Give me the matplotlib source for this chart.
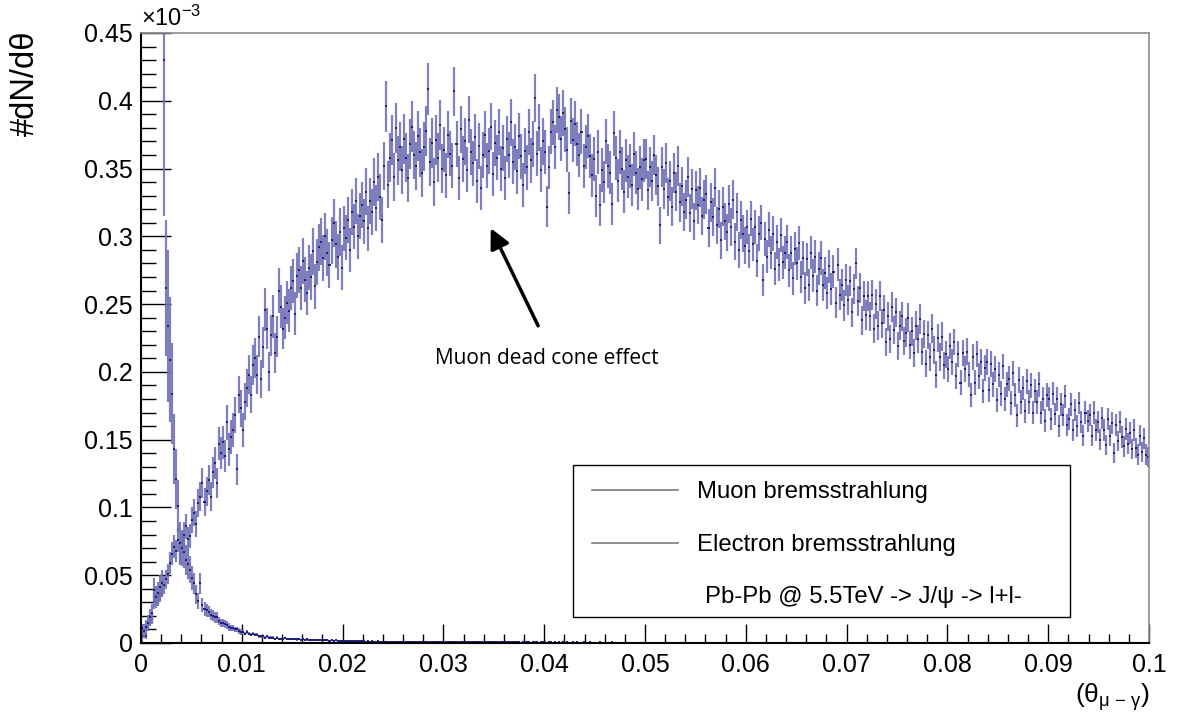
import numpy as np
import matplotlib
matplotlib.use('Agg')
import matplotlib.pyplot as plt
from matplotlib.patches import Rectangle
from matplotlib.lines import Line2D
from matplotlib.ticker import MultipleLocator, FuncFormatter

plt.rcParams['font.family'] = ['Liberation Sans', 'DejaVu Sans']
plt.rcParams['mathtext.fontset'] = 'custom'
plt.rcParams['mathtext.rm'] = 'Liberation Sans'
plt.rcParams['mathtext.it'] = 'Liberation Sans'

# histogram range and binning, 500 bins between 0 and 0.1 rad
theta_min, theta_max, n_bins = 0.0, 0.1, 500

# dN/dtheta in units of 1e-3, muon bremsstrahlung
muon = [
    0.011, 0.008, 0.005, 0.012, 0.017, 0.018, 0.031, 0.035, 0.033, 0.036,
    0.040, 0.043, 0.047, 0.051, 0.059, 0.066, 0.071, 0.068, 0.076, 0.066,
    0.074, 0.080, 0.086, 0.077, 0.079, 0.091, 0.096, 0.088, 0.103, 0.108,
    0.118, 0.104, 0.112, 0.120, 0.108, 0.126, 0.133, 0.118, 0.147, 0.140,
    0.148, 0.138, 0.163, 0.143, 0.152, 0.157, 0.168, 0.128, 0.183, 0.173,
    0.157, 0.178, 0.188, 0.198, 0.183, 0.205, 0.210, 0.198, 0.226, 0.195,
    0.218, 0.246, 0.232, 0.200, 0.227, 0.241, 0.214, 0.226, 0.260, 0.248,
    0.232, 0.240, 0.251, 0.245, 0.262, 0.267, 0.243, 0.271, 0.275, 0.262,
    0.282, 0.268, 0.258, 0.277, 0.270, 0.289, 0.263, 0.281, 0.292, 0.296,
    0.284, 0.300, 0.288, 0.279, 0.297, 0.310, 0.294, 0.285, 0.303, 0.277,
    0.306, 0.299, 0.312, 0.290, 0.318, 0.307, 0.326, 0.300, 0.315, 0.323,
    0.311, 0.333, 0.306, 0.326, 0.318, 0.340, 0.321, 0.344, 0.329, 0.312,
    0.352, 0.396, 0.338, 0.358, 0.371, 0.344, 0.380, 0.356, 0.366, 0.349,
    0.372, 0.358, 0.343, 0.368, 0.381, 0.360, 0.352, 0.374, 0.362, 0.347,
    0.366, 0.378, 0.409, 0.355, 0.369, 0.340, 0.371, 0.358, 0.382, 0.350,
    0.364, 0.345, 0.375, 0.361, 0.352, 0.407, 0.368, 0.343, 0.379, 0.357,
    0.370, 0.349, 0.386, 0.362, 0.354, 0.373, 0.341, 0.367, 0.336, 0.360,
    0.375, 0.352, 0.363, 0.381, 0.346, 0.369, 0.358, 0.377, 0.350, 0.365,
    0.343, 0.372, 0.360, 0.384, 0.355, 0.366, 0.348, 0.374, 0.359, 0.338,
    0.363, 0.351, 0.377, 0.356, 0.368, 0.402, 0.361, 0.380, 0.349, 0.370,
    0.362, 0.322, 0.351, 0.377, 0.384, 0.366, 0.393, 0.388, 0.372, 0.391,
    0.379, 0.364, 0.332, 0.385, 0.371, 0.383, 0.368, 0.360, 0.377, 0.352,
    0.366, 0.374, 0.359, 0.345, 0.357, 0.330, 0.362, 0.323, 0.349, 0.340,
    0.370, 0.352, 0.347, 0.324, 0.376, 0.358, 0.341, 0.362, 0.350, 0.333,
    0.356, 0.344, 0.352, 0.338, 0.361, 0.347, 0.335, 0.351, 0.342, 0.356,
    0.357, 0.334, 0.351, 0.341, 0.360, 0.345, 0.337, 0.308, 0.351, 0.335,
    0.354, 0.329, 0.341, 0.322, 0.347, 0.333, 0.352, 0.325, 0.337, 0.318,
    0.327, 0.344, 0.317, 0.335, 0.311, 0.334, 0.323, 0.336, 0.315, 0.327,
    0.331, 0.306, 0.325, 0.314, 0.336, 0.308, 0.320, 0.297, 0.322, 0.311,
    0.303, 0.324, 0.307, 0.327, 0.296, 0.318, 0.290, 0.312, 0.302, 0.293,
    0.307, 0.289, 0.313, 0.294, 0.307, 0.282, 0.302, 0.310, 0.268, 0.298,
    0.285, 0.305, 0.288, 0.302, 0.276, 0.296, 0.279, 0.301, 0.281, 0.288,
    0.296, 0.275, 0.288, 0.269, 0.291, 0.280, 0.295, 0.270, 0.284, 0.262,
    0.283, 0.264, 0.288, 0.271, 0.285, 0.260, 0.276, 0.284, 0.264, 0.273,
    0.258, 0.278, 0.261, 0.274, 0.251, 0.279, 0.257, 0.264, 0.249, 0.268,
    0.253, 0.267, 0.244, 0.261, 0.280, 0.252, 0.262, 0.238, 0.256, 0.242,
    0.256, 0.241, 0.257, 0.232, 0.250, 0.234, 0.256, 0.236, 0.246, 0.222,
    0.241, 0.224, 0.248, 0.231, 0.244, 0.219, 0.234, 0.241, 0.223, 0.229,
    0.240, 0.220, 0.230, 0.214, 0.234, 0.224, 0.239, 0.215, 0.228, 0.206,
    0.227, 0.211, 0.232, 0.216, 0.198, 0.225, 0.211, 0.226, 0.205, 0.213,
    0.202, 0.219, 0.207, 0.222, 0.197, 0.213, 0.192, 0.214, 0.202, 0.215,
    0.198, 0.183, 0.211, 0.192, 0.213, 0.197, 0.207, 0.186, 0.203, 0.207,
    0.187, 0.206, 0.191, 0.202, 0.179, 0.198, 0.184, 0.204, 0.180, 0.191,
    0.195, 0.177, 0.199, 0.183, 0.168, 0.194, 0.178, 0.188, 0.171, 0.193,
    0.178, 0.190, 0.170, 0.186, 0.178, 0.191, 0.170, 0.180, 0.164, 0.183,
    0.180, 0.165, 0.184, 0.169, 0.180, 0.160, 0.176, 0.168, 0.182, 0.161,
    0.165, 0.176, 0.157, 0.172, 0.160, 0.177, 0.163, 0.153, 0.170, 0.164,
    0.168, 0.153, 0.170, 0.157, 0.163, 0.150, 0.166, 0.157, 0.146, 0.165,
    0.153, 0.162, 0.140, 0.161, 0.149, 0.163, 0.152, 0.145, 0.158, 0.147,
    0.155, 0.143, 0.157, 0.144, 0.139, 0.153, 0.141, 0.151, 0.139, 0.137,
]

# per-bin weight factor for the muon errors (err = scale * sqrt(content)), one per 50 bins
muon_err_scale = [0.032, 0.032, 0.030, 0.028, 0.027, 0.025, 0.023, 0.022, 0.021, 0.020]

# dN/dtheta in units of 1e-3, electron bremsstrahlung
electron = [
    # bins 0-99
    0.005, 0.009, 0.012, 0.015, 0.019, 0.022, 0.039, 0.034, 0.037, 0.041,
    0.044, 0.430, 0.262, 0.234, 0.209, 0.184, 0.143, 0.121, 0.101, 0.074,
    0.070, 0.067, 0.061, 0.058, 0.054, 0.048, 0.044, 0.036, 0.031, 0.044,
    0.028, 0.025, 0.024, 0.023, 0.021, 0.020, 0.019, 0.019, 0.016, 0.015,
    0.015, 0.014, 0.013, 0.012, 0.011, 0.011, 0.010, 0.010, 0.009, 0.008,
    0.008, 0.007, 0.008, 0.007, 0.006, 0.007, 0.006, 0.006, 0.005, 0.005,
    0.005, 0.004, 0.005, 0.004, 0.004, 0.004, 0.003, 0.004, 0.003, 0.003,
    0.0032, 0.0035, 0.0030, 0.0028, 0.0031, 0.0027, 0.0029, 0.0026, 0.0028, 0.0025,
    0.0027, 0.0024, 0.0026, 0.0023, 0.0025, 0.0022, 0.0024, 0.0021, 0.0023, 0.0020,
    0.0021, 0.0019, 0.0022, 0.0018, 0.0020, 0.0017, 0.0019, 0.0016, 0.0018, 0.0015,
    # bins 100-199
    0.0016, 0.0014, 0.0015, 0.0013, 0.0015, 0.0012, 0.0014, 0.0013, 0.0012, 0.0014,
    0.0012, 0.0011, 0.0013, 0.0011, 0.0012, 0.0010, 0.0011, 0.0012, 0.0010, 0.0011,
    0.0010, 0.0011, 0.0009, 0.0010, 0.0011, 0.0009, 0.0010, 0.0009, 0.0010, 0.0008,
    0.0009, 0.0010, 0.0008, 0.0009, 0.0008, 0.0009, 0.0008, 0.0007, 0.0009, 0.0008,
    0.0008, 0.0007, 0.0008, 0.0007, 0.0008, 0.0007, 0.0006, 0.0008, 0.0007, 0.0006,
    0.0007, 0.0006, 0.0007, 0.0006, 0.0007, 0.0006, 0.0005, 0.0006, 0.0007, 0.0005,
    0.0006, 0.0005, 0.0006, 0.0005, 0.0006, 0.0005, 0.0006, 0.0004, 0.0005, 0.0006,
    0.0005, 0.0006, 0.0004, 0.0005, 0.0005, 0.0004, 0.0005, 0.0006, 0.0004, 0.0005,
    0.0004, 0.0005, 0.0004, 0.0005, 0.0004, 0.0004, 0.0005, 0.0004, 0.0003, 0.0004,
    0.0005, 0.0004, 0.0004, 0.0003, 0.0004, 0.0005, 0.0004, 0.0003, 0.0004, 0.0004,
    # bins 200-299
    0.0004, 0.0003, 0.0004, 0.0004, 0.0003, 0.0004, 0.0003, 0.0004, 0.0003, 0.0004,
    0.0003, 0.0004, 0.0003, 0.0003, 0.0004, 0.0003, 0.0004, 0.0003, 0.0003, 0.0004,
    0.0003, 0.0003, 0.0004, 0.0003, 0.0003, 0.0002, 0.0003, 0.0004, 0.0003, 0.0003,
    0.0002, 0.0003, 0.0003, 0.0004, 0.0003, 0.0002, 0.0003, 0.0003, 0.0002, 0.0003,
    0.0003, 0.0002, 0.0003, 0.0003, 0.0002, 0.0003, 0.0002, 0.0003, 0.0003, 0.0002,
    0.0002, 0.0003, 0.0002, 0.0003, 0.0002, 0.0002, 0.0003, 0.0002, 0.0003, 0.0002,
    0.0003, 0.0002, 0.0002, 0.0003, 0.0002, 0.0002, 0.0003, 0.0002, 0.0002, 0.0003,
    0.0002, 0.0002, 0.0003, 0.0002, 0.0002, 0.0002, 0.0003, 0.0002, 0.0002, 0.0002,
    0.0002, 0.0003, 0.0002, 0.0002, 0.0002, 0.0002, 0.0003, 0.0002, 0.0002, 0.0002,
    0.0002, 0.0002, 0.0002, 0.0003, 0.0002, 0.0002, 0.0002, 0.0002, 0.0002, 0.0003,
    # bins 300-399
    0.0002, 0.0002, 0.0002, 0.0002, 0.0002, 0.0003, 0.0002, 0.0002, 0.0002, 0.0002,
    0.0002, 0.0002, 0.0002, 0.0002, 0.0003, 0.0002, 0.0002, 0.0002, 0.0002, 0.0002,
    0.0002, 0.0002, 0.0002, 0.0002, 0.0002, 0.0002, 0.0002, 0.0003, 0.0002, 0.0002,
    0.0002, 0.0002, 0.0002, 0.0002, 0.0002, 0.0002, 0.0002, 0.0002, 0.0002, 0.0002,
    0.0002, 0.0002, 0.0002, 0.0002, 0.0002, 0.0002, 0.0002, 0.0002, 0.0002, 0.0002,
    0.0002, 0.0002, 0.0002, 0.0002, 0.0002, 0.0002, 0.0002, 0.0002, 0.0002, 0.0002,
    0.0002, 0.0002, 0.0002, 0.0002, 0.0002, 0.0002, 0.0002, 0.0002, 0.0002, 0.0002,
    0.0002, 0.0002, 0.0002, 0.0002, 0.0002, 0.0002, 0.0002, 0.0002, 0.0002, 0.0002,
    0.0002, 0.0002, 0.0002, 0.0002, 0.0002, 0.0002, 0.0002, 0.0002, 0.0002, 0.0002,
    0.0002, 0.0002, 0.0002, 0.0002, 0.0002, 0.0002, 0.0002, 0.0002, 0.0002, 0.0002,
    # bins 400-499
    0.0002, 0.0002, 0.0002, 0.0002, 0.0002, 0.0002, 0.0002, 0.0002, 0.0002, 0.0002,
    0.0002, 0.0002, 0.0002, 0.0002, 0.0002, 0.0002, 0.0002, 0.0002, 0.0002, 0.0002,
    0.0002, 0.0002, 0.0002, 0.0002, 0.0002, 0.0002, 0.0002, 0.0002, 0.0002, 0.0002,
    0.0002, 0.0002, 0.0002, 0.0002, 0.0002, 0.0002, 0.0002, 0.0002, 0.0002, 0.0002,
    0.0002, 0.0002, 0.0002, 0.0002, 0.0002, 0.0002, 0.0002, 0.0002, 0.0002, 0.0002,
    0.0002, 0.0002, 0.0002, 0.0002, 0.0002, 0.0002, 0.0002, 0.0002, 0.0002, 0.0002,
    0.0002, 0.0002, 0.0002, 0.0002, 0.0002, 0.0002, 0.0002, 0.0002, 0.0002, 0.0002,
    0.0002, 0.0002, 0.0002, 0.0002, 0.0002, 0.0002, 0.0002, 0.0002, 0.0002, 0.0002,
    0.0002, 0.0002, 0.0002, 0.0002, 0.0002, 0.0002, 0.0002, 0.0002, 0.0002, 0.0002,
    0.0002, 0.0002, 0.0002, 0.0002, 0.0002, 0.0002, 0.0002, 0.0002, 0.0002, 0.0002,
]

# errors of the first 50 electron bins (few entries, large weights near the peak)
electron_err_low = [
    0.004, 0.005, 0.005, 0.006, 0.006, 0.007, 0.009, 0.008, 0.008, 0.009,
    0.010, 0.115, 0.050, 0.056, 0.046, 0.037, 0.026, 0.022, 0.019, 0.015,
    0.013, 0.012, 0.011, 0.011, 0.010, 0.009, 0.008, 0.007, 0.006, 0.008,
    0.005, 0.005, 0.005, 0.004, 0.004, 0.004, 0.004, 0.004, 0.003, 0.003,
    0.003, 0.003, 0.003, 0.003, 0.002, 0.002, 0.002, 0.002, 0.002, 0.002,
]
electron_err_scale = 0.015

edges = np.linspace(theta_min, theta_max, n_bins + 1)
centers = 0.5 * (edges[1:] + edges[:-1])
half_width = 0.5 * (edges[1] - edges[0])

mu = np.array(muon)
mu_err = np.repeat(muon_err_scale, 50) * np.sqrt(mu)
el = np.array(electron)
el_err = electron_err_scale * np.sqrt(el)
el_err[:len(electron_err_low)] = electron_err_low

fig = plt.figure(figsize=(11.77, 7.27), dpi=100)
ax = fig.add_axes([141 / 1177, 1 - 643 / 727, 1008 / 1177, 610 / 727])

bar_col = '#7272b6'
mark_col = '#1e1e7a'
for vals, errs in [(mu, mu_err), (el, el_err)]:
    ax.errorbar(centers, vals, yerr=errs, fmt='none', ecolor=bar_col,
                elinewidth=1.6, alpha=0.9, capsize=0)
    ax.errorbar(centers, vals, xerr=half_width, fmt='none', ecolor=mark_col,
                elinewidth=1.4, capsize=0)

ax.set_xlim(theta_min, theta_max)
ax.set_ylim(0, 0.45)

fmt = FuncFormatter(lambda v, pos: '%g' % round(v, 4))
ax.xaxis.set_major_locator(MultipleLocator(0.01))
ax.xaxis.set_minor_locator(MultipleLocator(0.002))
ax.yaxis.set_major_locator(MultipleLocator(0.05))
ax.yaxis.set_minor_locator(MultipleLocator(0.01))
ax.xaxis.set_major_formatter(fmt)
ax.yaxis.set_major_formatter(fmt)
ax.tick_params(axis='both', which='both', direction='in', colors='black',
               labelsize=18, width=1)
ax.tick_params(axis='y', which='major', length=21.5, pad=6)
ax.tick_params(axis='y', which='minor', length=10.5)
ax.tick_params(axis='x', which='major', length=13.5, pad=7)
ax.tick_params(axis='x', which='minor', length=6.5)

for side in ['left', 'bottom']:
    ax.spines[side].set_linewidth(1.5)
    ax.spines[side].set_color('black')
for side in ['top', 'right']:
    ax.spines[side].set_linewidth(1.2)
    ax.spines[side].set_color('#8c8c8c')

ax.text(0.0, 1.004, r'$\times10^{-3}$', transform=ax.transAxes,
        fontsize=17, ha='left', va='bottom')
fig.text(25 / 1177, 1 - 31 / 727, '#dN/d\u03b8', rotation=90, fontsize=23.5,
         ha='center', va='top')
fig.text(1149 / 1177, 1 - 697 / 727, r'$(\theta_{\mu\ \mathrm{-}\ \gamma})$',
         fontsize=19, ha='right', va='center')

# arrow pointing at the dip of the muon spectrum
ax.annotate('', xy=(0.0347, 0.306), xytext=(0.0394, 0.234),
            arrowprops=dict(arrowstyle='-|>', lw=2.5, color='black',
                            mutation_scale=30, shrinkA=0, shrinkB=0))
ax.text(0.0403, 0.210, 'Muon dead cone effect', fontsize=15,
        family='Open Sans', ha='center', va='center')

# legend box
box = Rectangle((573 / 1177, 1 - 617 / 727), 497 / 1177, 152 / 727,
                transform=fig.transFigure, facecolor='white',
                edgecolor='black', lw=1.0)
fig.add_artist(box)
for ypx, label in [(490, 'Muon bremsstrahlung'), (543, 'Electron bremsstrahlung')]:
    fig.add_artist(Line2D([592 / 1177, 678 / 1177], [1 - ypx / 727] * 2,
                          transform=fig.transFigure, color='#7a7a7a', lw=1.2))
    fig.text(697 / 1177, 1 - (ypx + 2) / 727, label, fontsize=17.2,
             ha='left', va='center')
fig.text(705 / 1177, 1 - 597 / 727, 'Pb-Pb @ 5.5TeV -> J/\u03c8 -> l+l-',
         fontsize=17.2, ha='left', va='center')

fig.savefig('out.png', dpi=100)
